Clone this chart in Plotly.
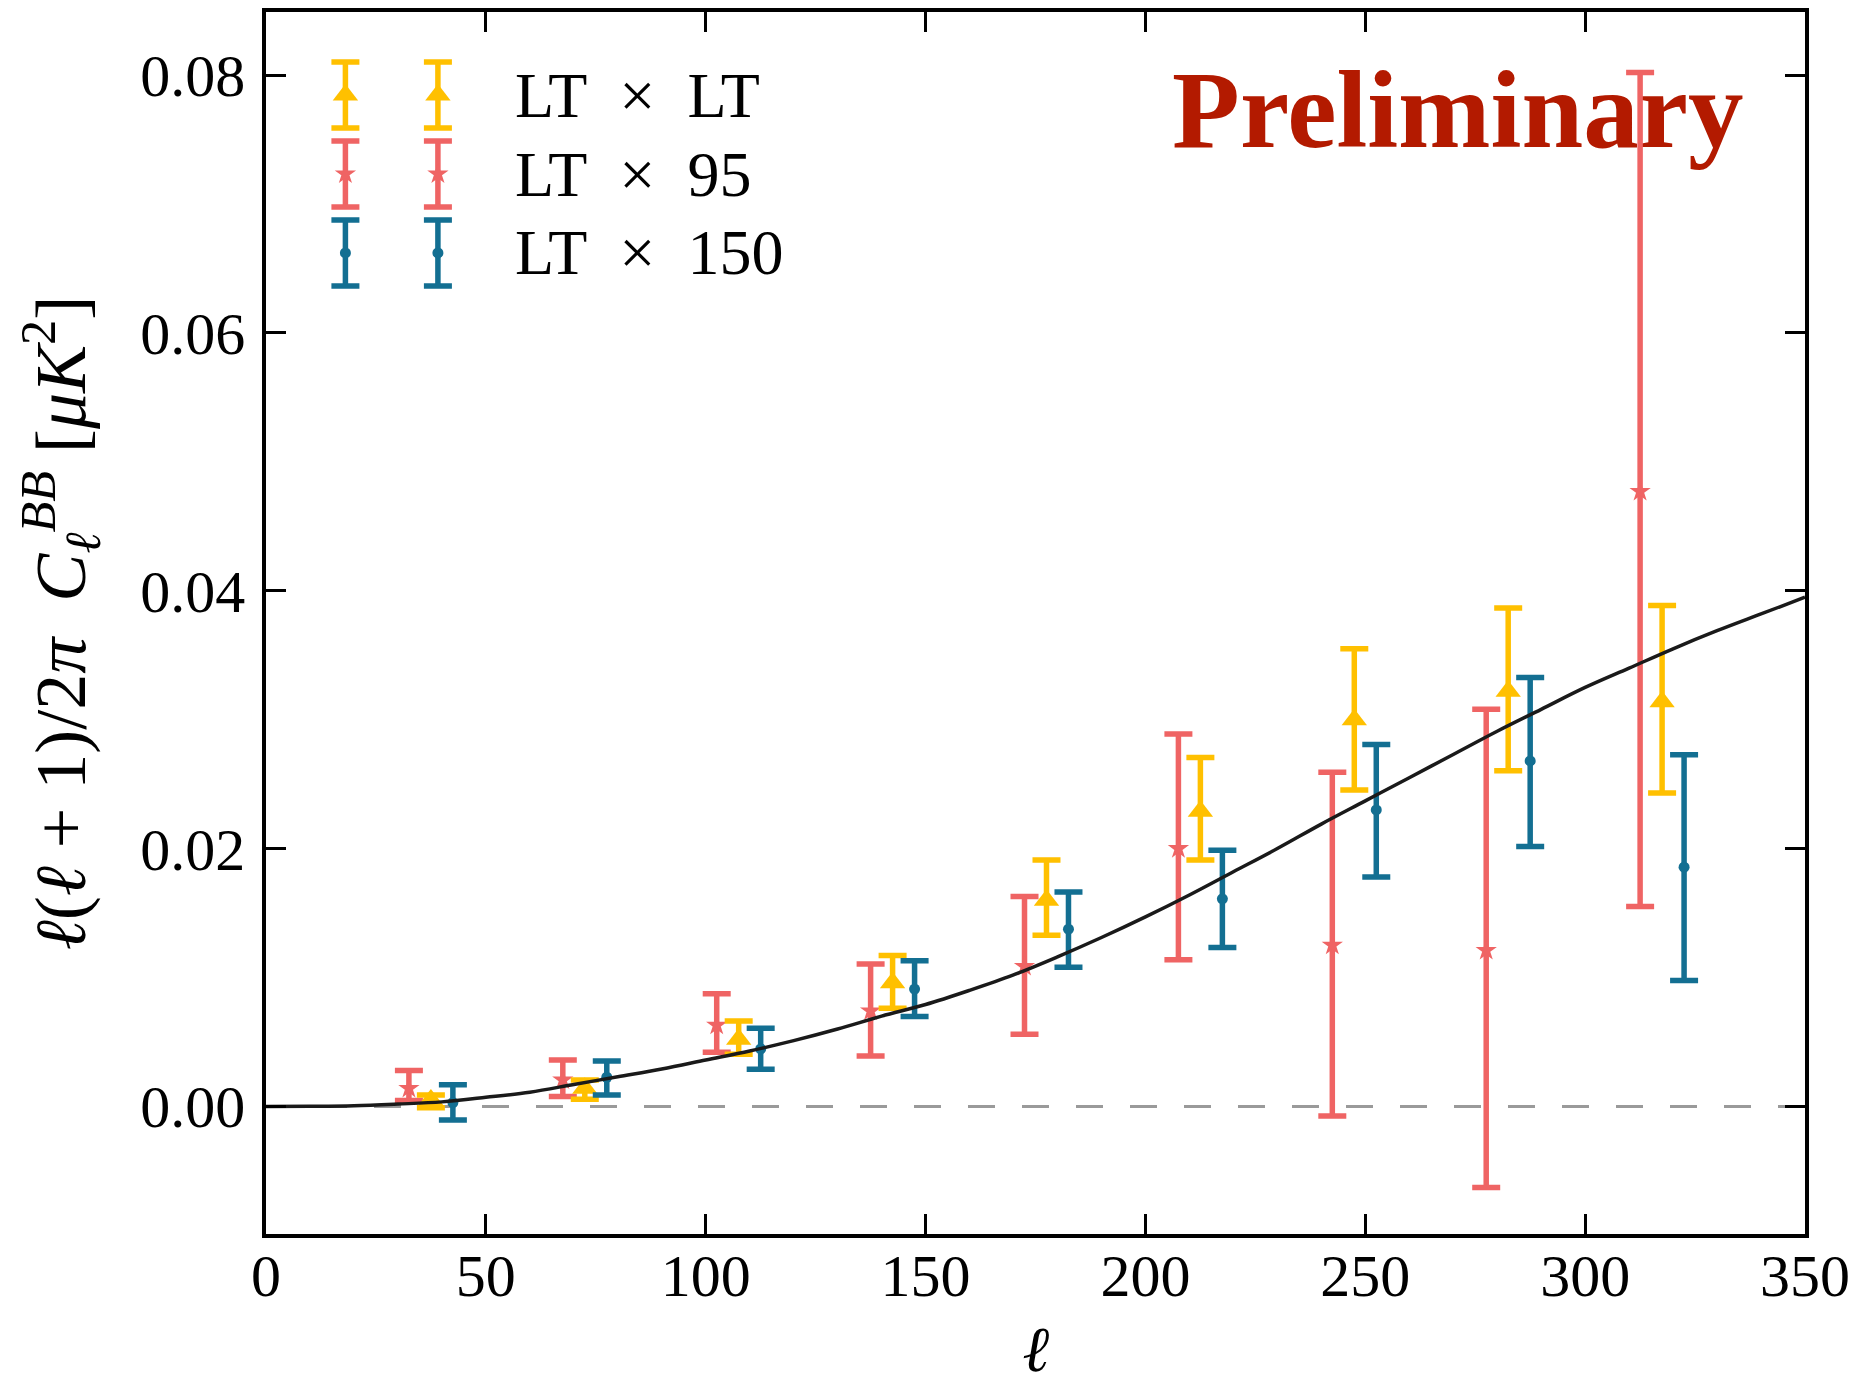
import plotly.graph_objects as go

# ---------------- data ----------------
ell_ltlt = [37.5, 72.5, 107.5, 142.5, 177.5, 212.5, 247.5, 282.5, 317.5]
cl_ltlt = [0.0005, 0.0014, 0.0052, 0.0096, 0.0160, 0.0229, 0.0300, 0.0322, 0.0314]
lo_ltlt = [-0.0001, 0.00055, 0.00405, 0.00762, 0.01328, 0.01912, 0.02455, 0.02604, 0.02431]
hi_ltlt = [0.00089, 0.00205, 0.00663, 0.0117, 0.01912, 0.02706, 0.0355, 0.03866, 0.03885]

ell_lt95 = [32.5, 67.5, 102.5, 137.5, 172.5, 207.5, 242.5, 277.5, 312.5]
cl_lt95 = [0.0014, 0.00205, 0.0063, 0.0074, 0.01085, 0.0200, 0.0125, 0.0121, 0.0477]
lo_lt95 = [0.00045, 0.00076, 0.0042, 0.0039, 0.0056, 0.01137, -0.00074, -0.0063, 0.0155]
hi_lt95 = [0.00278, 0.0036, 0.00873, 0.01105, 0.01628, 0.02888, 0.02593, 0.0308, 0.0802]

ell_lt150 = [42.5, 77.5, 112.5, 147.5, 182.5, 217.5, 252.5, 287.5, 322.5]
cl_lt150 = [0.0003, 0.00226, 0.00446, 0.0091, 0.01375, 0.0161, 0.0230, 0.0268, 0.01856]
lo_lt150 = [-0.00105, 0.00089, 0.00289, 0.00697, 0.0108, 0.01232, 0.0178, 0.02017, 0.00977]
hi_lt150 = [0.00167, 0.00353, 0.00607, 0.01129, 0.01664, 0.01988, 0.02807, 0.03328, 0.02728]

ell_model = [0, 10, 20, 30, 40, 50, 60, 70, 80, 90, 100, 110, 120, 130, 140, 150, 160, 170,
             180, 190, 200, 210, 220, 230, 240, 250, 260, 270, 280, 290, 300, 310, 320, 330, 340, 350]
cl_model = [0.0, 0.00001, 0.00005, 0.00018, 0.00035, 0.0007, 0.0011, 0.0017, 0.0023, 0.0029,
            0.0036, 0.0043, 0.0051, 0.0060, 0.0070, 0.0079, 0.0090, 0.0102, 0.0116, 0.0131,
            0.0147, 0.0164, 0.0182, 0.0200, 0.0219, 0.0237, 0.0255, 0.0273, 0.0291, 0.0308,
            0.0325, 0.0340, 0.0355, 0.0369, 0.0382, 0.0395]

series_names = ["LT\u2002×\u2002LT", "LT\u2002×\u200295", "LT\u2002×\u2002150"]
x_ticks = [0, 50, 100, 150, 200, 250, 300, 350]
y_ticks = [0.00, 0.02, 0.04, 0.06, 0.08]

# ---------------- styles ----------------
C_Y = "#FFC000"
C_R = "#EF6464"
C_B = "#136F92"
C_PRE = "#B31A00"
FONT = "Liberation Serif"
BAR_T = 5.5
CAP_W = 14

fig = go.Figure()

# zero reference line
fig.add_trace(go.Scatter(x=[x_ticks[0], x_ticks[-1]], y=[0, 0], mode="lines",
                         line=dict(color="#9a9a9a", width=3, dash="27px,27px"),
                         showlegend=False, hoverinfo="skip"))

# "Preliminary" watermark (below the data marks)
fig.add_trace(go.Scatter(x=[336], y=[0.0766], mode="text", text=["<b>Preliminary</b>"],
                         textposition="middle left",
                         textfont=dict(family=FONT, size=111, color=C_PRE),
                         showlegend=False, hoverinfo="skip"))


def add_series(ell, cl, lo, hi, color, symbol, size, name):
    fig.add_trace(go.Scatter(
        x=ell, y=cl, mode="markers", name=name,
        marker=dict(symbol=symbol, size=size, color=color, line=dict(width=0)),
        error_y=dict(type="data", symmetric=False,
                     array=[h - c for h, c in zip(hi, cl)],
                     arrayminus=[c - l for c, l in zip(cl, lo)],
                     color=color, thickness=BAR_T, width=CAP_W),
        showlegend=False))


add_series(ell_lt95, cl_lt95, lo_lt95, hi_lt95, C_R, "star", 16, series_names[1])
add_series(ell_ltlt, cl_ltlt, lo_ltlt, hi_ltlt, C_Y, "triangle-up", 22, series_names[0])
add_series(ell_lt150, cl_lt150, lo_lt150, hi_lt150, C_B, "circle", 11, series_names[2])

# model curve
fig.add_trace(go.Scatter(x=ell_model, y=cl_model, mode="lines",
                         line=dict(color="#1a1a1a", width=3.5, shape="spline"),
                         showlegend=False, hoverinfo="skip"))

# ---------------- custom legend (two error-bar glyphs per row) ----------------
leg_x = [0.0516, 0.1117]
leg_rows = [0.932, 0.8674, 0.8028]
leg_half = 0.027
leg_text_x = 0.1603
leg_styles = [(C_Y, "triangle-up", 22), (C_R, "star", 16), (C_B, "circle", 11)]
for row_y, (col, sym, sz), nm in zip(leg_rows, leg_styles, series_names):
    fig.add_trace(go.Scatter(
        x=leg_x, y=[row_y] * len(leg_x), xaxis="x2", yaxis="y2", mode="markers",
        marker=dict(symbol=sym, size=sz, color=col),
        error_y=dict(type="constant", value=leg_half, color=col, thickness=BAR_T, width=CAP_W),
        showlegend=False, hoverinfo="skip"))
    fig.add_annotation(x=leg_text_x, y=row_y, xref="x2", yref="y2", text=nm,
                       showarrow=False, xanchor="left", yanchor="middle",
                       font=dict(family=FONT, size=64, color="black"))

axis_common = dict(
    showline=True, linecolor="black", linewidth=3.5, mirror="ticks",
    ticks="inside", ticklen=20, tickwidth=2.5, tickcolor="black",
    showgrid=False, zeroline=False, automargin=False,
    tickfont=dict(family=FONT, size=60, color="black"),
)

fig.update_layout(
    width=1861, height=1385, autosize=False,
    paper_bgcolor="white", plot_bgcolor="white",
    margin=dict(l=266, r=56, t=12, b=151, pad=0),
    showlegend=False,
    xaxis=dict(range=[0, 350], tickvals=x_ticks, ticktext=[str(v) for v in x_ticks],
               ticklabelstandoff=-14,
               title=dict(text="<i>ℓ</i>", font=dict(family=FONT, size=64, color="black"), standoff=20),
               **axis_common),
    yaxis=dict(range=[-0.0099, 0.0849], tickvals=y_ticks, ticktext=[f"{v:.2f}" for v in y_ticks],
               ticklabelstandoff=5,
               title=dict(text="<i>ℓ</i>(<i>ℓ</i> + 1)/2<i>π</i>  <i>C</i><sub><i>ℓ</i></sub><sup><i>BB</i></sup> [<i>μK</i><sup>2</sup>]",
                          font=dict(family=FONT, size=72, color="black"), standoff=32),
               **axis_common),
    xaxis2=dict(overlaying="x", range=[0, 1], visible=False),
    yaxis2=dict(overlaying="y", range=[0, 1], visible=False),
)

fig.write_html("out.html", config={"displayModeBar": False},
               post_script="document.body.style.margin='0';document.body.style.overflow='hidden';")
